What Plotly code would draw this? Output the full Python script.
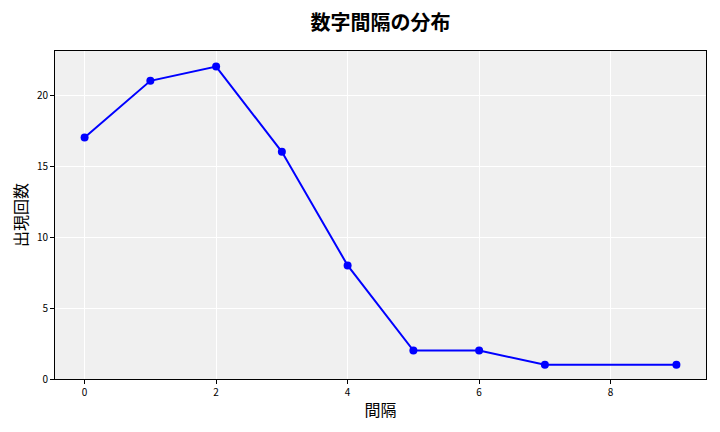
import plotly.graph_objects as go

gaps = [0, 1, 2, 3, 4, 5, 6, 7, 9]
counts = [17, 21, 22, 16, 8, 2, 2, 1, 1]

FONT = "Noto Sans CJK JP"

fig = go.Figure(
    go.Scatter(
        x=gaps,
        y=counts,
        mode="lines+markers",
        line=dict(color="#0000ff", width=2),
        marker=dict(color="#0000ff", size=8),
    )
)

axis_style = dict(
    showgrid=True,
    gridcolor="white",
    gridwidth=1,
    zeroline=False,
    showline=True,
    linecolor="black",
    linewidth=1,
    mirror=True,
    ticks="outside",
    ticklen=4,
    tickcolor="black",
    tickfont=dict(family=FONT, size=10, color="black"),
    automargin=False,
)

fig.update_xaxes(
    range=[-0.45, 9.45],
    dtick=2,
    title=dict(text="間隔", font=dict(family=FONT, size=16, color="black"), standoff=6),
    **axis_style,
)
fig.update_yaxes(
    range=[0, 23.1],
    dtick=5,
    title=dict(text="出現回数", font=dict(family=FONT, size=16, color="black"), standoff=10),
    **axis_style,
)

# page body adds a small offset, so margins are trimmed on the left/top
fig.update_layout(
    width=720,
    height=432,
    title=dict(
        text="<b>数字間隔の分布</b>",
        xref="paper",
        x=0.5,
        xanchor="center",
        y=0.965,
        yanchor="middle",
        font=dict(family=FONT, size=20, color="black"),
    ),
    plot_bgcolor="#f0f0f0",
    paper_bgcolor="white",
    margin=dict(l=47, r=22, t=43, b=61),
    showlegend=False,
    font=dict(family=FONT),
)

fig.write_html("out.html")
